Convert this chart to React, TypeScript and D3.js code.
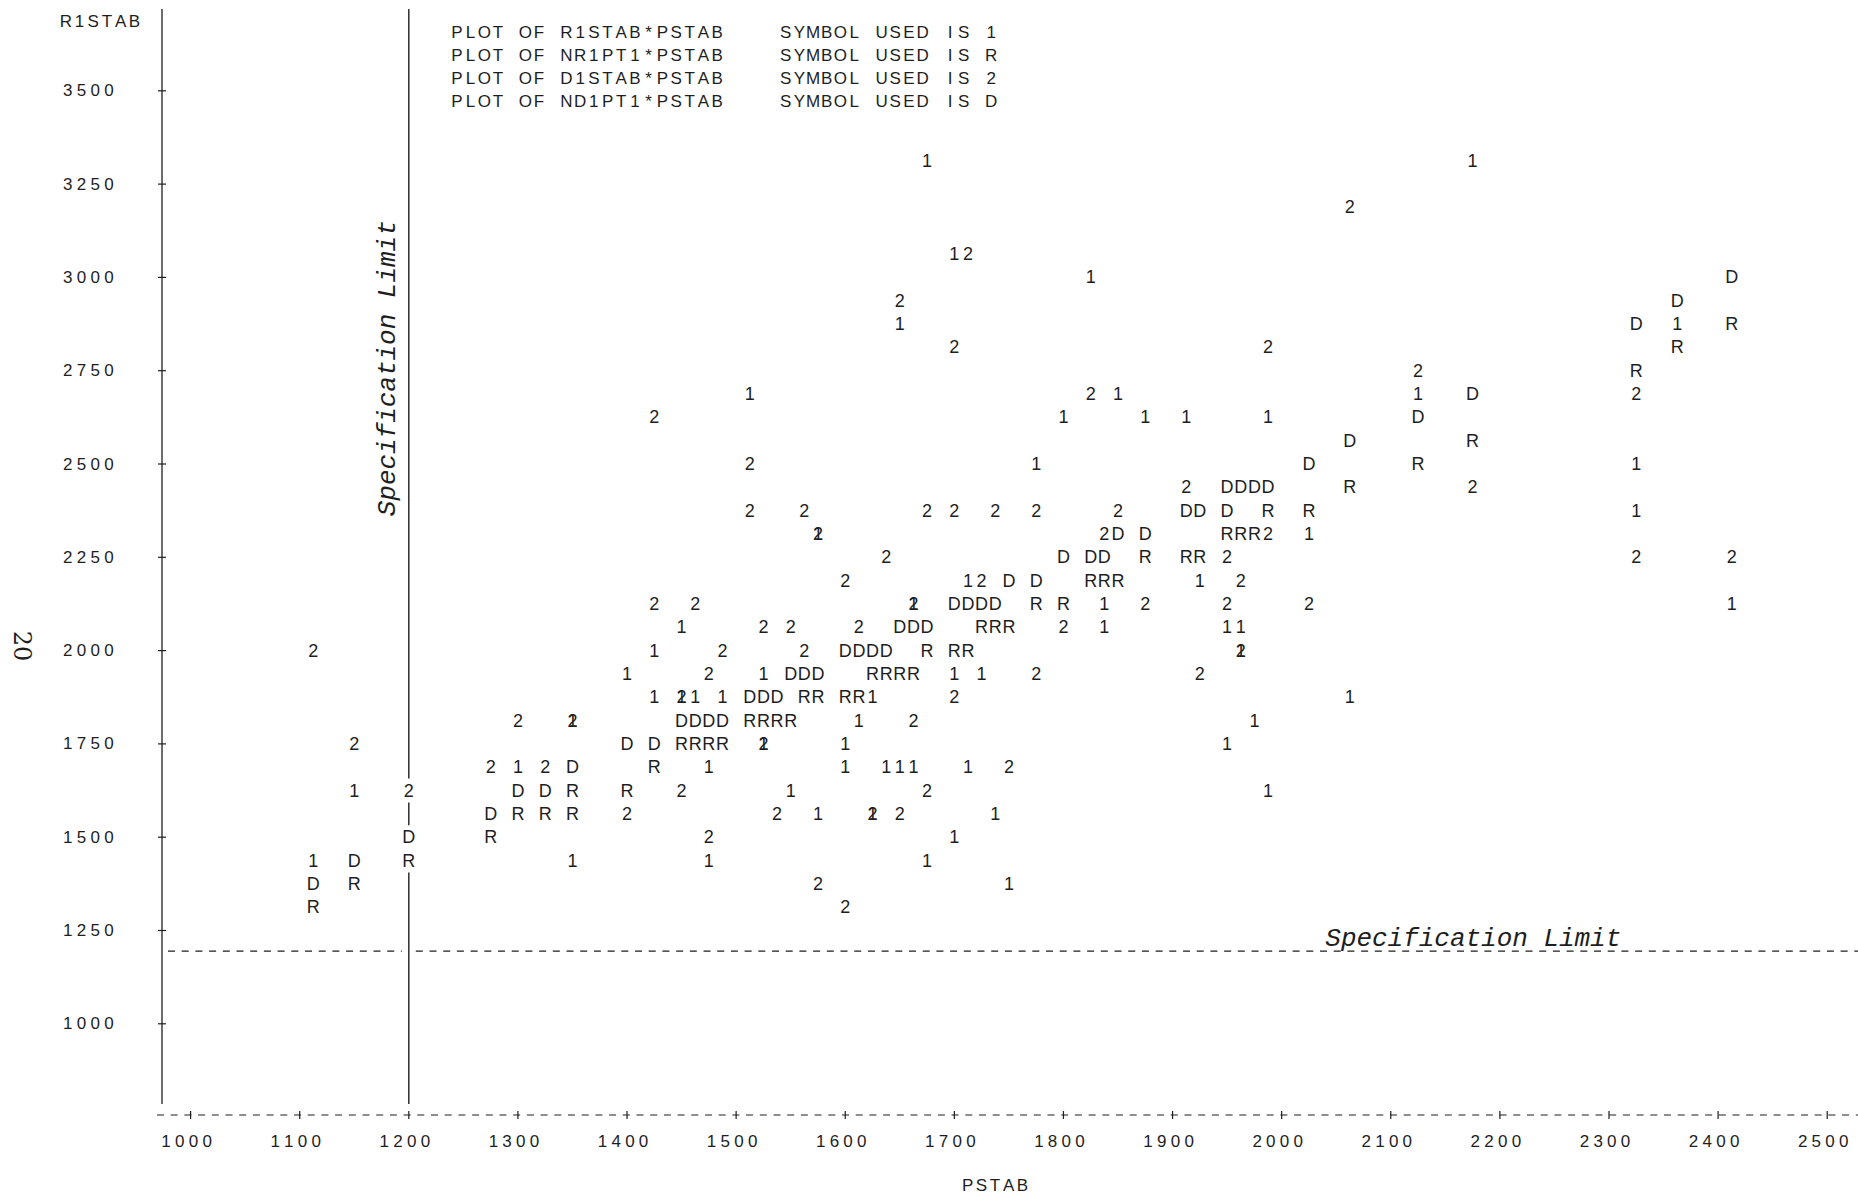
import React from "react";
import * as d3 from "d3";

const W = 1858;
const H = 1199;
const COL = 13.7; // width of one printer column, px

const xTicks = [1000, 1100, 1200, 1300, 1400, 1500, 1600, 1700, 1800, 1900, 2000, 2100, 2200, 2300, 2400, 2500];
const yTicks = [1000, 1250, 1500, 1750, 2000, 2250, 2500, 2750, 3000, 3250, 3500];

const legendLines = [
  "PLOT OF R1STAB*PSTAB    SYMBOL USED IS 1",
  "PLOT OF NR1PT1*PSTAB    SYMBOL USED IS R",
  "PLOT OF D1STAB*PSTAB    SYMBOL USED IS 2",
  "PLOT OF ND1PT1*PSTAB    SYMBOL USED IS D",
];

const specLimitX = 1200;
const specLimitY = 1195;

// [PSTAB, value]
const r1stab: [number, number][] = [
  [1675, 3312.5], [2175, 3312.5],
  [1700, 3062.5],
  [1825, 3000],
  [1650, 2875], [2362.5, 2875],
  [1512.5, 2687.5], [1850, 2687.5], [2125, 2687.5],
  [1800, 2625], [1875, 2625], [1912.5, 2625], [1987.5, 2625],
  [1775, 2500], [2325, 2500],
  [2325, 2375],
  [1575, 2312.5], [2025, 2312.5],
  [1712.5, 2187.5], [1925, 2187.5],
  [1662.5, 2125], [1837.5, 2125], [2412.5, 2125],
  [1450, 2062.5], [1837.5, 2062.5], [1950, 2062.5], [1962.5, 2062.5],
  [1425, 2000], [1962.5, 2000],
  [1400, 1937.5], [1525, 1937.5], [1700, 1937.5], [1725, 1937.5],
  [1425, 1875], [1450, 1875], [1462.5, 1875], [1487.5, 1875], [1625, 1875], [2062.5, 1875],
  [1350, 1812.5], [1612.5, 1812.5], [1975, 1812.5],
  [1525, 1750], [1600, 1750], [1950, 1750],
  [1300, 1687.5], [1475, 1687.5], [1600, 1687.5], [1637.5, 1687.5], [1650, 1687.5], [1662.5, 1687.5], [1712.5, 1687.5],
  [1150, 1625], [1550, 1625], [1987.5, 1625],
  [1575, 1562.5], [1625, 1562.5], [1737.5, 1562.5],
  [1700, 1500],
  [1112.5, 1437.5], [1350, 1437.5], [1475, 1437.5], [1675, 1437.5],
  [1750, 1375],
];

const nr1pt1: [number, number][] = [
  [2412.5, 2875],
  [2362.5, 2812.5],
  [2325, 2750],
  [2175, 2562.5],
  [2125, 2500],
  [2062.5, 2437.5],
  [1987.5, 2375], [2025, 2375],
  [1950, 2312.5], [1962.5, 2312.5], [1975, 2312.5],
  [1875, 2250], [1912.5, 2250], [1925, 2250],
  [1825, 2187.5], [1837.5, 2187.5], [1850, 2187.5],
  [1775, 2125], [1800, 2125],
  [1725, 2062.5], [1737.5, 2062.5], [1750, 2062.5],
  [1675, 2000], [1700, 2000], [1712.5, 2000],
  [1625, 1937.5], [1637.5, 1937.5], [1650, 1937.5], [1662.5, 1937.5],
  [1562.5, 1875], [1575, 1875], [1600, 1875], [1612.5, 1875],
  [1512.5, 1812.5], [1525, 1812.5], [1537.5, 1812.5], [1550, 1812.5],
  [1450, 1750], [1462.5, 1750], [1475, 1750], [1487.5, 1750],
  [1425, 1687.5],
  [1350, 1625], [1400, 1625],
  [1300, 1562.5], [1325, 1562.5], [1350, 1562.5],
  [1275, 1500],
  [1200, 1437.5],
  [1150, 1375],
  [1112.5, 1312.5],
];

const d1stab: [number, number][] = [
  [2062.5, 3187.5],
  [1712.5, 3062.5],
  [1650, 2937.5],
  [1700, 2812.5], [1987.5, 2812.5],
  [2125, 2750],
  [1825, 2687.5], [2325, 2687.5],
  [1425, 2625],
  [1512.5, 2500],
  [1912.5, 2437.5], [2175, 2437.5],
  [1512.5, 2375], [1562.5, 2375], [1675, 2375], [1700, 2375], [1737.5, 2375], [1775, 2375], [1850, 2375],
  [1575, 2312.5], [1837.5, 2312.5], [1987.5, 2312.5],
  [1637.5, 2250], [1950, 2250], [2325, 2250], [2412.5, 2250],
  [1600, 2187.5], [1725, 2187.5], [1962.5, 2187.5],
  [1425, 2125], [1462.5, 2125], [1662.5, 2125], [1875, 2125], [1950, 2125], [2025, 2125],
  [1525, 2062.5], [1550, 2062.5], [1612.5, 2062.5], [1800, 2062.5],
  [1112.5, 2000], [1487.5, 2000], [1562.5, 2000], [1962.5, 2000],
  [1475, 1937.5], [1775, 1937.5], [1925, 1937.5],
  [1450, 1875], [1700, 1875],
  [1300, 1812.5], [1350, 1812.5], [1662.5, 1812.5],
  [1150, 1750], [1525, 1750],
  [1275, 1687.5], [1325, 1687.5], [1750, 1687.5],
  [1200, 1625], [1450, 1625], [1675, 1625],
  [1400, 1562.5], [1537.5, 1562.5], [1625, 1562.5], [1650, 1562.5],
  [1475, 1500],
  [1575, 1375],
  [1600, 1312.5],
];

const nd1pt1: [number, number][] = [
  [2412.5, 3000],
  [2362.5, 2937.5],
  [2325, 2875],
  [2175, 2687.5],
  [2125, 2625],
  [2062.5, 2562.5],
  [2025, 2500],
  [1950, 2437.5], [1962.5, 2437.5], [1975, 2437.5], [1987.5, 2437.5],
  [1912.5, 2375], [1925, 2375], [1950, 2375],
  [1850, 2312.5], [1875, 2312.5],
  [1800, 2250], [1825, 2250], [1837.5, 2250],
  [1750, 2187.5], [1775, 2187.5],
  [1700, 2125], [1712.5, 2125], [1725, 2125], [1737.5, 2125],
  [1650, 2062.5], [1662.5, 2062.5], [1675, 2062.5],
  [1600, 2000], [1612.5, 2000], [1625, 2000], [1637.5, 2000],
  [1550, 1937.5], [1562.5, 1937.5], [1575, 1937.5],
  [1512.5, 1875], [1525, 1875], [1537.5, 1875],
  [1450, 1812.5], [1462.5, 1812.5], [1475, 1812.5], [1487.5, 1812.5],
  [1400, 1750], [1425, 1750],
  [1350, 1687.5],
  [1300, 1625], [1325, 1625],
  [1275, 1562.5],
  [1200, 1500],
  [1150, 1437.5],
  [1112.5, 1375],
];

const series = [
  { symbol: "1", points: r1stab },
  { symbol: "R", points: nr1pt1 },
  { symbol: "2", points: d1stab },
  { symbol: "D", points: nd1pt1 },
];

const ink = "#1e1e1e";
const plotFont = "'Liberation Sans', Arial, sans-serif";

// text laid out on the printer's character grid
function Chars({ x, y, text, size = 17, anchor = "start" }: any) {
  const w = text.length * COL;
  const x0 = anchor === "middle" ? x - w / 2 : x;
  return (
    <g>
      {text.split("").map((c: string, i: number) =>
        c === " " ? null : (
          <text key={i} x={x0 + (i + 0.5) * COL} y={y} textAnchor="middle" dominantBaseline="central" fontSize={size}>
            {c}
          </text>
        )
      )}
    </g>
  );
}

export default function App() {
  const x = d3.scaleLinear().domain([1000, 2500]).range([190.6, 1827.2]);
  const y = d3.scaleLinear().domain([1000, 3500]).range([1023.8, 90.8]);

  const axisX = 162;
  const axisY = 1115;
  const topY = 9;
  const lineBottom = 1104;

  // vertical spec line, broken where symbols sit on it
  const sx = x(specLimitX);
  const hits = series
    .flatMap((s) => s.points)
    .filter((p) => p[0] === specLimitX)
    .map((p) => y(p[1]))
    .sort((a, b) => a - b);
  const segs: [number, number][] = [];
  let start = topY;
  hits.forEach((h) => {
    if (h - 12 > start) segs.push([start, h - 12]);
    start = Math.max(start, h + 12);
  });
  segs.push([start, lineBottom]);

  const sy = y(specLimitY);

  return (
    <svg
      width={W}
      height={H}
      style={{ position: "absolute", left: 0, top: 0, background: "#fff" }}
      fontFamily={plotFont}
      fill={ink}
    >
      <rect width={W} height={H} fill="#fff" />

      {/* y axis */}
      <line x1={axisX} x2={axisX} y1={topY} y2={lineBottom} stroke={ink} strokeWidth={1.3} />
      {yTicks.map((t) => (
        <g key={t}>
          <line x1={axisX - 4} x2={axisX + 4} y1={y(t)} y2={y(t)} stroke={ink} strokeWidth={1.2} />
          <Chars x={61} y={y(t)} text={String(t)} />
        </g>
      ))}
      <Chars x={59} y={21} text="R1STAB" />

      {/* x axis */}
      <line x1={157} x2={W} y1={axisY} y2={axisY} stroke={ink} strokeWidth={1.2} strokeDasharray="7 6.7" />
      {xTicks.map((t) => (
        <g key={t}>
          <line x1={x(t)} x2={x(t)} y1={axisY - 4} y2={axisY + 4} stroke={ink} strokeWidth={1.2} />
          <Chars x={x(t) - 4} y={1141} text={String(t)} anchor="middle" />
        </g>
      ))}
      <Chars x={995} y={1185} text="PSTAB" anchor="middle" />

      {/* legend */}
      {legendLines.map((l, i) => (
        <Chars key={i} x={450} y={32 + i * 23.3} text={l} />
      ))}

      {/* specification limits */}
      {segs.map((s, i) => (
        <line key={i} x1={sx} x2={sx} y1={s[0]} y2={s[1]} stroke={ink} strokeWidth={1.4} />
      ))}
      <line x1={axisX + 6} x2={sx - 7} y1={sy} y2={sy} stroke={ink} strokeWidth={1.2} strokeDasharray="7 6.7" />
      <line x1={sx + 7} x2={W} y1={sy} y2={sy} stroke={ink} strokeWidth={1.2} strokeDasharray="7 6.7" />
      <text
        x={x(2040)}
        y={sy - 5}
        fontFamily="'Liberation Mono', 'Courier New', monospace"
        fontStyle="italic"
        fontSize={26}
        textLength={296}
        lengthAdjust="spacing"
      >
        Specification Limit
      </text>
      <text
        transform={`translate(${sx - 14},${y(2360)}) rotate(-90)`}
        fontFamily="'Liberation Mono', 'Courier New', monospace"
        fontStyle="italic"
        fontSize={26}
        textLength={296}
        lengthAdjust="spacing"
      >
        Specification Limit
      </text>

      {/* plotted symbols */}
      {series.map((s) => (
        <g key={s.symbol}>
          {s.points.map((p, i) => (
            <text
              key={i}
              x={x(p[0])}
              y={y(p[1])}
              textAnchor="middle"
              dominantBaseline="central"
              fontSize={18}
            >
              {s.symbol}
            </text>
          ))}
        </g>
      ))}

      {/* page number */}
      <text
        transform="translate(14,646) rotate(90)"
        textAnchor="middle"
        fontFamily="'DejaVu Serif', serif"
        fontSize={24}
      >
        20
      </text>
    </svg>
  );
}
